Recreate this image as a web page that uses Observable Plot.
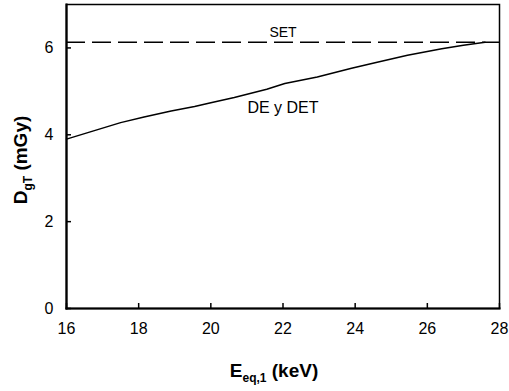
<!DOCTYPE html>
<html>
<head>
<meta charset="utf-8">
<script src="https://cdn.jsdelivr.net/npm/d3@7"></script>
<script src="https://cdn.jsdelivr.net/npm/@observablehq/plot@0.6"></script>
<style>
  html, body { margin: 0; padding: 0; background: #fff; }
  svg { display: block; }
</style>
</head>
<body>
<div id="chart"></div>
<script>
// Curve "DE y DET": x = E_eq,1 (keV), y = D_gT (mGy)
const energyKeV = [16, 16.75, 17.5, 18.15, 18.9, 19.55, 20, 20.65, 21.55, 22.05, 22.95, 23.9, 24.55, 25.45, 26.4, 27.0, 27.6];
const doseMGy   = [3.90, 4.09, 4.28, 4.41, 4.55, 4.65, 4.74, 4.86, 5.05, 5.18, 5.33, 5.53, 5.66, 5.83, 5.98, 6.06, 6.13];
// Horizontal dashed reference "SET"
const setDose = 6.13;
// Tick values
const xTicks = [16, 18, 20, 22, 24, 26, 28];
const yTicks = [0, 2, 4, 6];
// Text labels placed in data coordinates
const setLabel = [{x: 22, y: 6.36, text: "SET"}];
const curveLabel = [{x: 22, y: 4.62, text: "DE y DET"}];

const curve = energyKeV.map((x, i) => ({x, y: doseMGy[i]}));
const font = '"Liberation Sans", Arial, sans-serif';

const W = 509, H = 391, mL = 66, mR = 10, mT = 4, mB = 83;
const innerW = W - mL - mR, innerH = H - mT - mB;

const plot = Plot.plot({
  width: W,
  height: H,
  marginLeft: mL,
  marginRight: mR,
  marginTop: mT,
  marginBottom: mB,
  style: {fontFamily: font, fontSize: "16px", background: "#fff", color: "#000"},
  x: {domain: [16, 28]},
  y: {domain: [0, 7]},
  marks: [
    Plot.frame({stroke: "#000", strokeWidth: 1.5}),
    Plot.frame({anchor: "left", stroke: "#000", strokeWidth: 2.2}),
    Plot.frame({anchor: "bottom", stroke: "#000", strokeWidth: 2.2}),
    Plot.axisX({ticks: xTicks, tickSize: 0, tickPadding: 14, tickFormat: d3.format("d"), label: null, fontSize: 16}),
    Plot.axisY({ticks: yTicks, tickSize: 0, tickPadding: 13, tickFormat: d3.format("d"), label: null, fontSize: 16}),
    // inward tick marks
    Plot.ruleX(xTicks, {stroke: "#000", strokeWidth: 1.5, insetTop: innerH - 5}),
    Plot.ruleY(yTicks, {stroke: "#000", strokeWidth: 1.5, insetRight: innerW - 5}),
    Plot.ruleY([setDose], {stroke: "#000", strokeWidth: 1.5, strokeDasharray: "19,7"}),
    Plot.line(curve, {x: "x", y: "y", stroke: "#000", strokeWidth: 1.5}),
    Plot.text(setLabel, {x: "x", y: "y", text: "text", fontSize: 14, fill: "#000"}),
    Plot.text(curveLabel, {x: "x", y: "y", text: "text", fontSize: 16, fill: "#000"})
  ]
});

document.getElementById("chart").appendChild(plot);

// Axis titles with subscripts
const svg = d3.select(plot);
const xt = svg.append("text")
  .attr("x", 274).attr("y", 377)
  .attr("text-anchor", "middle")
  .attr("font-family", font).attr("font-weight", "bold").attr("font-size", 19).attr("fill", "#000");
xt.append("tspan").text("E");
xt.append("tspan").attr("font-size", 12).attr("dy", 5).text("eq,1");
xt.append("tspan").attr("dy", -5).text(" (keV)");

const yt = svg.append("text")
  .attr("transform", "translate(27,160) rotate(-90)")
  .attr("text-anchor", "middle")
  .attr("font-family", font).attr("font-weight", "bold").attr("font-size", 19).attr("fill", "#000");
yt.append("tspan").text("D");
yt.append("tspan").attr("font-size", 12).attr("dy", 5).text("gT");
yt.append("tspan").attr("dy", -5).text(" (mGy)");
</script>
</body>
</html>
